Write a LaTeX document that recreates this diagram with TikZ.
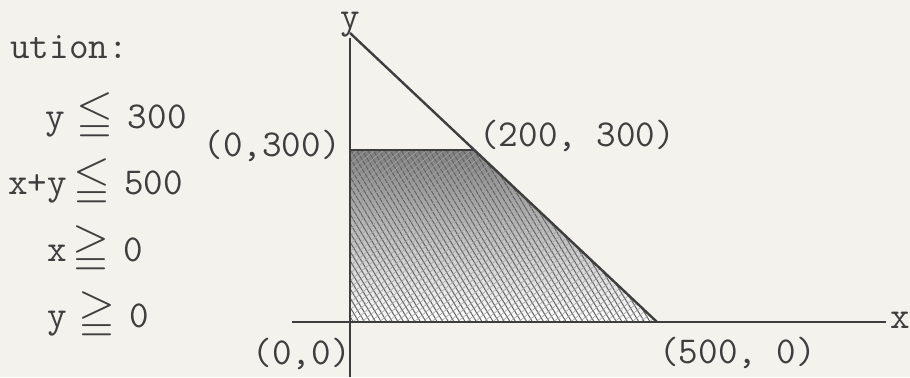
\documentclass[tikz,border=0pt]{standalone}
\usepackage{amssymb}
\usepackage{graphicx}
\usepackage{tikz}
\usetikzlibrary{patterns.meta}
\definecolor{paper}{RGB}{244,242,236}
\definecolor{ink}{RGB}{62,62,62}
\definecolor{hatch}{RGB}{100,100,100}
\definecolor{shade}{RGB}{196,196,192}
\newcommand{\ineq}[1]{\scalebox{1.25}{$#1$}}
\tikzset{
  axis/.style={draw=ink, line width=1.2pt},
  bound/.style={draw=ink, line width=1.2pt},
  lbl/.style={inner sep=0pt, text=ink, font=\fontsize{19}{22}\selectfont\ttfamily},
}

\begin{document}
\begin{tikzpicture}[x=0.5pt, y=0.5pt]
  \useasboundingbox[fill=paper] (0,0) rectangle (910,377);

  \node[lbl] (ylab) at (350,352) {y};
  \node[lbl] (xlab) at (900,57) {x};

  \coordinate (O) at (350,55);
  \coordinate (P) at (350,227);   % (0,300)
  \coordinate (Q) at (473,227);   % (200,300)
  \coordinate (R) at (657,55);    % (500,0)
  \coordinate (T) at (350,344);   % (0,500)
  \coordinate (ybot) at (350,0);
  \coordinate (xleft) at (292,55);

  % feasible region
  \fill[shade] (O) -- (P) -- (Q) -- (R) -- cycle;
  \fill[pattern={Lines[angle=-59,distance=2.4pt,line width=0.5pt]}, pattern color=hatch]
    (O) -- (P) -- (Q) -- (R) -- cycle;
  \fill[pattern={Lines[angle=40,distance=2.8pt,line width=0.3pt]}, pattern color=hatch!60]
    (O) -- (P) -- (Q) -- (R) -- cycle;

  \draw[axis] (ybot) -- (ylab.south);
  \draw[axis] (xleft) -- ([xshift=-2pt]xlab.west |- O);
  \draw[bound] (T) -- (R);
  \draw[bound] (P) -- (Q);

  \node[lbl, anchor=base east] (p0300) at (341,221) {(0,300)};
  \node[lbl, anchor=base west] (p200300) at (479,231) {(200, 300)};
  \node[lbl, anchor=base east] (p00) at (351,13) {(0,0)};
  \node[lbl, anchor=base west] (p5000) at (659,14) {(500, 0)};

  \node[lbl, anchor=base west] (sol) at (10,319) {ution:};
  \node[lbl, anchor=base west] (c1) at (45,249) {y\hspace{6pt}\ineq{\leqq}\hspace{7pt}300};
  \node[lbl, anchor=base west] (c2) at (8,183) {x+y\hspace{3pt}\ineq{\leqq}\hspace{7pt}500};
  \node[lbl, anchor=base west] (c3) at (47,116) {x\hspace{3pt}\ineq{\geqq}\hspace{7pt}0};
  \node[lbl, anchor=base west] (c4) at (47,50) {y\hspace{6pt}\ineq{\geqq}\hspace{7pt}0};
\end{tikzpicture}
\end{document}
